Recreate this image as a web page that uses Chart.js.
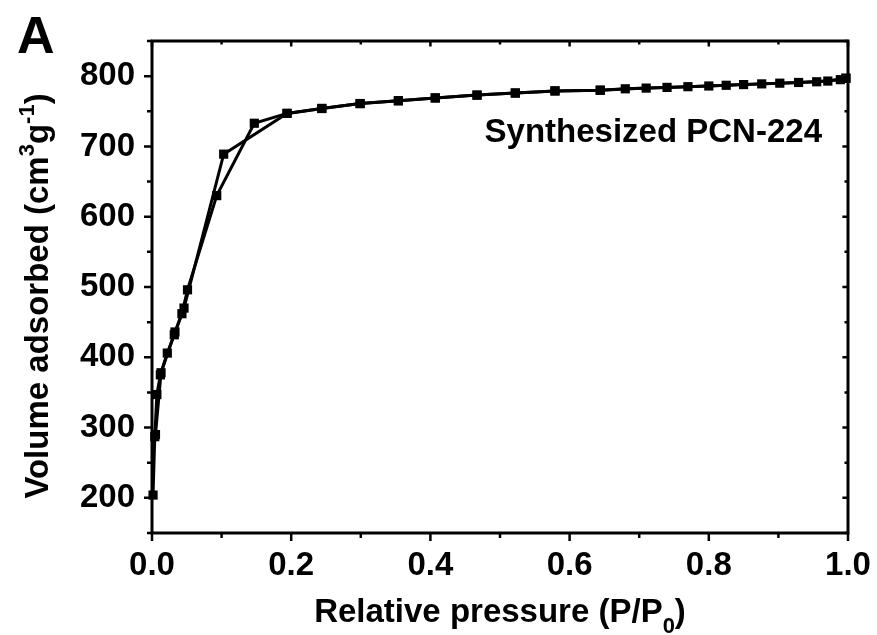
<!DOCTYPE html>
<html>
<head>
<meta charset="utf-8">
<script src="https://cdn.jsdelivr.net/npm/chart.js@4.4.0/dist/chart.umd.min.js"></script>
<style>
  body { margin: 0; background: #ffffff; }
  #wrap { width: 877px; height: 635px; }
</style>
</head>
<body>
<div id="wrap"><canvas id="isoChart" width="877" height="635"></canvas></div>
<script>
const adsPressure = [0.0015, 0.004, 0.007, 0.012, 0.022, 0.032, 0.043, 0.051, 0.093, 0.147, 0.194, 0.244, 0.299, 0.354, 0.407, 0.467, 0.522, 0.579, 0.644, 0.71, 0.77, 0.825, 0.876, 0.929, 0.971, 0.997];
const adsVolume = [204, 287, 347, 375, 406, 432, 462, 496, 630, 733, 747, 754, 761, 765, 769, 773, 776, 779, 780, 783, 785, 787, 789, 791, 793, 797];

const desPressure = [0.997, 0.989, 0.955, 0.902, 0.85, 0.8, 0.74, 0.68, 0.644, 0.579, 0.522, 0.467, 0.407, 0.354, 0.299, 0.244, 0.194, 0.103, 0.046, 0.033, 0.013, 0.005];
const desVolume = [797, 795, 792, 790, 788, 786, 784, 782, 780, 779, 776, 773, 769, 765, 761, 754, 747, 689, 470, 436, 378, 290];

const xTicks = [0, 0.2, 0.4, 0.6, 0.8, 1.0];
const xMinorTicks = [0.1, 0.3, 0.5, 0.7, 0.9];
const yTicks = [200, 300, 400, 500, 600, 700, 800];
const yMinorTicks = [150, 250, 350, 450, 550, 650, 750, 850];

const FONT = '"Liberation Sans", Arial, sans-serif';

// === Helper: draw text made of parts (sub/superscripts) ===
function drawRich(ctx, parts, x, y) {
  let total = 0;
  parts.forEach((p) => {
    ctx.font = `bold ${p.size}px ${FONT}`;
    p.w = ctx.measureText(p.text).width;
    total += p.w;
  });
  let cx = x - total / 2;
  ctx.textAlign = "left";
  ctx.textBaseline = "alphabetic";
  parts.forEach((p) => {
    ctx.font = `bold ${p.size}px ${FONT}`;
    ctx.fillText(p.text, cx, y + (p.dy || 0));
    cx += p.w;
  });
}

// === Plugin: frame, tick marks, titles and labels ===
const framePlugin = {
  id: "frame",
  afterDraw(chart) {
    const { ctx, chartArea: a, scales } = chart;
    const xs = scales.x;
    const ys = scales.y;
    ctx.save();
    ctx.strokeStyle = "#000";
    ctx.fillStyle = "#000";
    ctx.lineWidth = 3;
    ctx.strokeRect(a.left, a.top, a.right - a.left, a.bottom - a.top);

    ctx.lineWidth = 2.5;
    ctx.beginPath();
    const tickX = (v, len) => {
      const px = xs.getPixelForValue(v);
      ctx.moveTo(px, a.bottom);
      ctx.lineTo(px, a.bottom + len); // outward on bottom
      ctx.moveTo(px, a.top);
      ctx.lineTo(px, a.top + len * 0.7); // inward on top
    };
    const tickY = (v, len) => {
      const py = ys.getPixelForValue(v);
      ctx.moveTo(a.left, py);
      ctx.lineTo(a.left - len, py); // outward on left
      ctx.moveTo(a.right, py);
      ctx.lineTo(a.right - len * 0.7, py); // inward on right
    };
    xTicks.forEach((v) => tickX(v, 8));
    xMinorTicks.forEach((v) => tickX(v, 5));
    yTicks.forEach((v) => tickY(v, 8));
    yMinorTicks.forEach((v) => tickY(v, 5));
    ctx.stroke();

    // x axis title
    drawRich(
      ctx,
      [
        { text: "Relative pressure (P/P", size: 33 },
        { text: "0", size: 22, dy: 11 },
        { text: ")", size: 33 },
      ],
      (a.left + a.right) / 2,
      622
    );

    // y axis title (rotated)
    ctx.save();
    ctx.translate(48, 296);
    ctx.rotate(-Math.PI / 2);
    drawRich(
      ctx,
      [
        { text: "Volume adsorbed (cm", size: 33 },
        { text: "3", size: 22, dy: -14 },
        { text: "g", size: 33 },
        { text: "-1", size: 22, dy: -14 },
        { text: ")", size: 33 },
      ],
      0,
      0
    );
    ctx.restore();

    // panel letter
    ctx.font = `bold 52px ${FONT}`;
    ctx.textAlign = "left";
    ctx.fillText("A", 17, 53);

    // sample label
    ctx.font = `bold 33px ${FONT}`;
    ctx.textAlign = "right";
    ctx.fillText("Synthesized PCN-224", 822, 142);
    ctx.restore();
  },
};

const pointStyle = {
  borderColor: "#000",
  backgroundColor: "#000",
  borderWidth: 3,
  pointStyle: "rect",
  pointRadius: 6.5,
  pointHoverRadius: 6.5,
  pointBorderWidth: 0,
  showLine: true,
  tension: 0,
  clip: false,
};

new Chart(document.getElementById("isoChart"), {
  type: "scatter",
  data: {
    datasets: [
      {
        label: "Adsorption",
        data: adsPressure.map((p, i) => ({ x: p, y: adsVolume[i] })),
        ...pointStyle,
      },
      {
        label: "Desorption",
        data: desPressure.map((p, i) => ({ x: p, y: desVolume[i] })),
        ...pointStyle,
      },
    ],
  },
  options: {
    responsive: false,
    animation: false,
    devicePixelRatio: 1,
    layout: { padding: { top: 41, right: 29, left: 0, bottom: 0 } },
    plugins: {
      legend: { display: false },
      tooltip: { enabled: false },
    },
    scales: {
      x: {
        type: "linear",
        min: 0,
        max: 1,
        grid: { display: false, drawTicks: false },
        border: { display: false },
        afterBuildTicks: (s) => {
          s.ticks = xTicks.map((v) => ({ value: v }));
        },
        afterFit: (s) => {
          s.height = 102;
          s.paddingLeft = 0;
          s.paddingRight = 0;
        },
        ticks: {
          color: "#000",
          padding: 13,
          maxRotation: 0,
          font: { family: FONT, size: 33, weight: "bold" },
          callback: (v) => Number(v).toFixed(1),
        },
      },
      y: {
        type: "linear",
        min: 150,
        max: 850,
        grid: { display: false, drawTicks: false },
        border: { display: false },
        afterBuildTicks: (s) => {
          s.ticks = yTicks.map((v) => ({ value: v }));
        },
        afterFit: (s) => {
          s.width = 152;
          s.paddingTop = 0;
          s.paddingBottom = 0;
        },
        ticks: {
          color: "#000",
          padding: 17,
          font: { family: FONT, size: 33, weight: "bold" },
        },
      },
    },
  },
  plugins: [framePlugin],
});
</script>
</body>
</html>
